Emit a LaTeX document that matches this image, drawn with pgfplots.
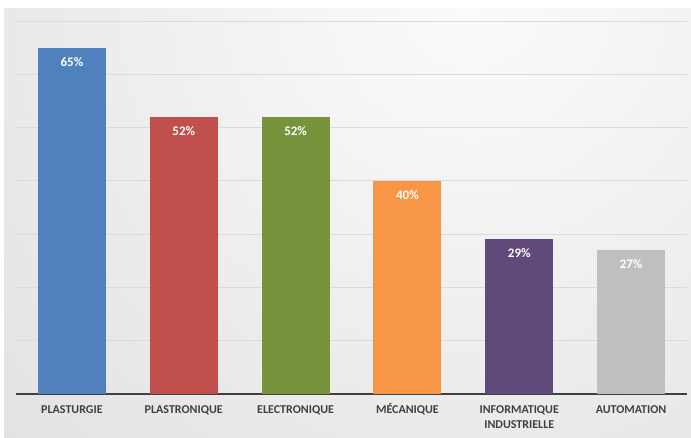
\documentclass[border=0pt]{standalone}
\usepackage{fontspec}
\setmainfont{Carlito}
\usepackage{pgfplots}
\pgfplotsset{compat=1.18}
\definecolor{cBlue}{HTML}{4F81BD}
\definecolor{cRed}{HTML}{C0504D}
\definecolor{cGreen}{HTML}{77933C}
\definecolor{cOrange}{HTML}{F79646}
\definecolor{cPurple}{HTML}{604A7B}
\definecolor{cGray}{HTML}{BFBFBF}
\definecolor{axisc}{HTML}{404040}
\definecolor{labc}{HTML}{404040}
\newcommand{\V}{\vphantom{É}}
\begin{document}
\begin{tikzpicture}[x=1pt,y=1pt]
\useasboundingbox (0,0) rectangle (691,437);
\fill[white] (0,0) rectangle (691,437);
\begin{scope}
\clip (4,0) rectangle (691,428);
\shade[inner color=gray!3, outer color=gray!38] (470,440) circle (1150);
\end{scope}
\begin{axis}[
  at={(16pt,43pt)}, anchor=south west,
  scale only axis,
  width=671pt, height=373pt,
  xmin=-0.5, xmax=5.5, ymin=0, ymax=70,
  ybar, bar width=68pt,
  axis x line*=bottom, axis y line*=left,
  x axis line style={draw=axisc, line width=1.5pt, -},
  y axis line style={draw=none},
  ytick={10,20,...,70}, yticklabels={},
  ymajorgrids, major grid style={draw=gray!28, line width=0.8pt},
  xtick={0,...,5},
  xticklabels={\V PLASTURGIE,\V PLASTRONIQUE,\V ELECTRONIQUE,\V MÉCANIQUE,{\V INFORMATIQUE\\INDUSTRIELLE},\V AUTOMATION},
  xticklabel style={font=\bfseries\fontsize{12}{15}\selectfont, text=labc, align=center, anchor=north, yshift=-6pt},
  major tick length=0pt,
  /pgf/number format/assume math mode=true,
  nodes near coords={\pgfmathprintnumber{\pgfplotspointmeta}\%},
  every node near coord/.append style={anchor=north, yshift=-6pt, text=white, font=\bfseries\fontsize{13}{15}\selectfont},
  clip=false,
]
\addplot[bar shift=0pt, fill=cBlue, draw=none] coordinates {(0,65)};
\addplot[bar shift=0pt, fill=cRed, draw=none] coordinates {(1,52)};
\addplot[bar shift=0pt, fill=cGreen, draw=none] coordinates {(2,52)};
\addplot[bar shift=0pt, fill=cOrange, draw=none] coordinates {(3,40)};
\addplot[bar shift=0pt, fill=cPurple, draw=none] coordinates {(4,29)};
\addplot[bar shift=0pt, fill=cGray, draw=none] coordinates {(5,27)};
\end{axis}
\end{tikzpicture}
\end{document}
